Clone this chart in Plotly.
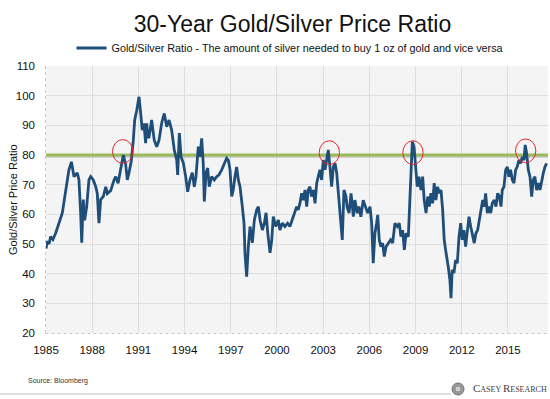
import plotly.graph_objects as go

# ---- data ----
years = [1985.0, 1985.1, 1985.2, 1985.3, 1985.45, 1985.63, 1985.84, 1986.06, 1986.28, 1986.49,
         1986.65, 1986.82, 1987.03, 1987.14, 1987.25, 1987.32, 1987.42, 1987.51, 1987.64, 1987.79,
         1987.90, 1988.07, 1988.23, 1988.33, 1988.44, 1988.55, 1988.72, 1988.88, 1988.98, 1989.20,
         1989.42, 1989.53, 1989.68, 1989.85, 1990.02, 1990.17, 1990.28, 1990.39, 1990.54, 1990.67,
         1990.76, 1990.89, 1991.04, 1991.15, 1991.25, 1991.36, 1991.47, 1991.54, 1991.62, 1991.69,
         1991.86, 1992.03, 1992.19, 1992.34, 1992.51, 1992.68, 1992.84, 1992.99, 1993.16, 1993.33,
         1993.49, 1993.55, 1993.66, 1993.77, 1993.92, 1994.07, 1994.20, 1994.35, 1994.50, 1994.63,
         1994.74, 1994.89, 1995.00, 1995.11, 1995.21, 1995.28, 1995.39, 1995.50, 1995.60, 1995.76,
         1995.93, 1996.08, 1996.23, 1996.41, 1996.58, 1996.73, 1996.84, 1996.95, 1997.06, 1997.16,
         1997.27, 1997.38, 1997.49, 1997.60, 1997.75, 1997.86, 1997.92, 1998.03, 1998.14, 1998.25,
         1998.40, 1998.53, 1998.68, 1998.79, 1998.90, 1999.05, 1999.18, 1999.29, 1999.40, 1999.55,
         1999.66, 1999.76, 1999.92, 2000.09, 2000.19, 2000.35, 2000.52, 2000.69, 2000.84, 2000.99,
         2001.12, 2001.28, 2001.38, 2001.49, 2001.60, 2001.71, 2001.82, 2001.93, 2002.03, 2002.14,
         2002.25, 2002.36, 2002.47, 2002.58, 2002.68, 2002.79, 2002.90, 2003.01, 2003.12, 2003.23,
         2003.33, 2003.44, 2003.55, 2003.66, 2003.77, 2003.88, 2003.98, 2004.09, 2004.24, 2004.35,
         2004.48, 2004.55, 2004.68, 2004.81, 2004.96, 2005.06, 2005.21, 2005.32, 2005.45, 2005.60,
         2005.76, 2005.89, 2006.04, 2006.15, 2006.25, 2006.36, 2006.47, 2006.54, 2006.64, 2006.75,
         2006.86, 2006.97, 2007.08, 2007.23, 2007.38, 2007.51, 2007.66, 2007.81, 2007.94, 2008.05,
         2008.16, 2008.27, 2008.38, 2008.53, 2008.64, 2008.70, 2008.79, 2008.90, 2009.01, 2009.11,
         2009.22, 2009.35, 2009.46, 2009.56, 2009.68, 2009.79, 2009.89, 2010.00, 2010.11, 2010.21,
         2010.32, 2010.43, 2010.54, 2010.65, 2010.76, 2010.86, 2010.95, 2011.02, 2011.12, 2011.23,
         2011.30, 2011.38, 2011.49, 2011.60, 2011.71, 2011.82, 2011.93, 2012.03, 2012.14, 2012.25,
         2012.36, 2012.47, 2012.58, 2012.68, 2012.81, 2012.92, 2013.03, 2013.14, 2013.25, 2013.36,
         2013.46, 2013.55, 2013.66, 2013.77, 2013.88, 2013.98, 2014.11, 2014.22, 2014.33, 2014.44,
         2014.55, 2014.63, 2014.74, 2014.85, 2014.96, 2015.06, 2015.17, 2015.28, 2015.39, 2015.50,
         2015.60, 2015.71, 2015.82, 2015.93, 2016.04, 2016.12, 2016.21, 2016.32, 2016.43, 2016.54,
         2016.64, 2016.75, 2016.86, 2016.98, 2017.08, 2017.19, 2017.29, 2017.40, 2017.51]

ratio = [48.5, 51, 50, 52.5, 51.5, 53.7, 57, 60.5, 68, 75,
         77.7, 72.7, 74, 71.6, 60.5, 50.4, 65, 58, 62.5, 71.6,
         72.7, 71.6, 69.3, 67, 57, 65, 66, 69.3, 67, 68,
         71.6, 72.7, 70.5, 75, 80, 77, 71.6, 74, 78, 85,
         91.8, 95, 99.6, 94, 88.4, 90.7, 84, 90.7, 86, 86,
         91.8, 85, 82.8, 85, 90.7, 94, 89.5, 91.8, 88.4, 81.7,
         78.3, 73.3, 87.4, 79.4, 77.3, 72.7, 67.6, 71.6, 74, 69.3,
         72.7, 82.8, 79.4, 85.6, 77.3, 64.3, 74, 75.6, 69.3, 72.7,
         71.6, 72.7, 73.3, 75, 77.3, 78.9, 78.3, 75, 66, 68.2,
         72.7, 76, 71.6, 69.3, 62.6, 57, 47, 39, 49.1, 55.9,
         50.4, 58.1, 61.5, 62.6, 58.1, 54.7, 57, 60.5, 53.7, 47,
         51.4, 59.2, 55.9, 58.1, 54.7, 57, 55.9, 57, 55.9, 58.1,
         60.5, 62.6, 61.5, 63.7, 67.1, 64.8, 68.2, 62.6, 68.2, 69.3,
         66, 68.2, 63.7, 70.5, 72.7, 75, 71.6, 78.3, 75, 78.3,
         81.7, 76, 69.3, 76, 77.2, 73.8, 68.2, 61.5, 51.4, 68.2,
         66, 62.6, 60.4, 67.1, 59.2, 64.8, 60.4, 62.6, 59.2, 64.8,
         62.6, 60.4, 62.6, 57, 43.5, 53.6, 57, 59.8, 51.4, 49.1,
         50.3, 45.8, 49.1, 50.3, 51.4, 50.3, 57, 55.9, 57, 52.5,
         54.7, 48, 53.6, 52.5, 64.8, 76, 84.5, 82.8, 76, 69.3,
         72.7, 68.2, 72.7, 64.8, 60.4, 66, 62.6, 67.1, 63.7, 70.5,
         64.8, 69.3, 67.1, 68.2, 61.5, 51.4, 48, 46, 42.4, 37.9,
         31.7, 41.3, 40.2, 44.6, 43.5, 52.5, 57, 51.4, 54.7, 49.1,
         54.7, 59.2, 55.9, 53.6, 50.3, 53.6, 54.7, 58.1, 61.5, 64.8,
         62.6, 67.1, 60.4, 62.6, 60.4, 63.7, 64.8, 62.6, 67.1, 66,
         62.6, 68.2, 69.3, 75, 76, 72.7, 75, 71.6, 70.5, 75,
         76, 78.3, 77.2, 79.4, 78.3, 83.4, 80.6, 75, 72.7, 66,
         71.6, 72.7, 68.2, 70.5, 68.2, 71.6, 73.8, 76, 77.2]

threshold = 80
x_range = [1985.0, 2017.6]
tick_years = [1985, 1988, 1991, 1994, 1997, 2000, 2003, 2006, 2009, 2012, 2015]
tick_labels = [str(y) for y in tick_years]
circle_years = [1989.98, 2003.4, 2008.83, 2016.15]
circle_values = [81.2, 80.8, 80.8, 81.4]

FONT = "Liberation Sans Narrow, Arial Narrow, Liberation Sans, Arial, sans-serif"

# plot-area geometry (pixels) for placing decorations outside the plot
L, R, T, B = 46, 548, 66, 333
W, H = 550, 399
def px(xp):
    return (xp - L) / (R - L)
def py(yp):
    return (B - yp) / (B - T)

fig = go.Figure()

fig.add_trace(go.Scatter(
    x=x_range, y=[threshold - 0.45, threshold - 0.45], mode="lines",
    line=dict(color="rgba(120,120,120,0.35)", width=3),
    showlegend=False, hoverinfo="skip"))
fig.add_trace(go.Scatter(
    x=x_range, y=[threshold, threshold], mode="lines",
    line=dict(color="#9BBB59", width=3),
    showlegend=False, hoverinfo="skip"))
fig.add_trace(go.Scatter(
    x=years, y=ratio, mode="lines",
    name="Gold/Silver Ratio - The amount of silver needed to buy 1 oz of gold and vice versa",
    line=dict(color="#1F4E79", width=2.8)))

shapes = []
for cx, cy in zip(circle_years, circle_values):
    shapes.append(dict(type="circle", xref="x", yref="y",
                       x0=cx - 0.66, x1=cx + 0.66, y0=cy - 4.0, y1=cy + 4.0,
                       line=dict(color="#E8262B", width=1)))
# dotted left and bottom frame
shapes.append(dict(type="line", xref="paper", yref="paper", x0=px(45.5), x1=px(45.5), y0=0, y1=1,
                   line=dict(color="#C8C8C8", width=1, dash="dot")))
shapes.append(dict(type="line", xref="paper", yref="paper", x0=px(45.5), x1=1, y0=py(333.5), y1=py(333.5),
                   line=dict(color="#C8C8C8", width=1, dash="dot")))
# footer separator
shapes.append(dict(type="line", xref="paper", yref="paper", x0=px(0), x1=px(451), y0=py(394), y1=py(394),
                   line=dict(color="#C0C0C0", width=1)))
# logo icon
shapes.append(dict(type="circle", xref="paper", yref="paper", x0=px(452), x1=px(464), y0=py(395), y1=py(383),
                   fillcolor="#9A9A9A", line=dict(color="#707070", width=1)))
shapes.append(dict(type="circle", xref="paper", yref="paper", x0=px(455), x1=px(461), y0=py(392), y1=py(386),
                   fillcolor="#D0D0D0", line=dict(color="#808080", width=0.8)))

annotations = [
    dict(text="Gold/Silver Price Ratio", xref="paper", yref="paper", x=px(13), y=py(200),
         xanchor="center", yanchor="middle", textangle=-90, showarrow=False,
         font=dict(family=FONT, size=11, color="#111111")),
    dict(text="Source: Bloomberg", xref="paper", yref="paper", x=px(26), y=py(381),
         xanchor="left", yanchor="middle", showarrow=False,
         font=dict(family=FONT, size=7, color="#333333")),
    dict(text="<span style='font-size:11px'>C</span>ASEY <span style='font-size:11px'>R</span>ESEARCH",
         xref="paper", yref="paper", x=px(549), y=py(388),
         xanchor="right", yanchor="middle", showarrow=False,
         font=dict(family="Liberation Serif, Times New Roman, serif", size=8, color="#404040")),
]

fig.update_layout(
    width=W, height=H,
    margin=dict(l=L, r=W - R, t=T, b=H - B, autoexpand=False),
    paper_bgcolor="white", plot_bgcolor="#F4F4F4",
    title=dict(text="30-Year Gold/Silver Price Ratio", x=292.5 / W, xanchor="center",
               y=1 - 24 / H, yanchor="middle", xref="container", yref="container",
               font=dict(family=FONT, size=23, color="#111111")),
    legend=dict(orientation="h", xref="container", yref="container",
                x=290 / W, xanchor="center", y=1 - 48 / H, yanchor="middle",
                font=dict(family=FONT, size=10.8, color="#111111"),
                bgcolor="rgba(0,0,0,0)", itemwidth=30),
    xaxis=dict(range=x_range, tickvals=tick_years, ticktext=tick_labels, automargin=False,
               showgrid=True, gridcolor="#DEDEDE", gridwidth=1, zeroline=False, showline=False,
               ticks="", ticklabelstandoff=8,
               tickfont=dict(family=FONT, size=11.5, color="#111111")),
    yaxis=dict(range=[20, 110], tick0=20, dtick=10, automargin=False,
               showgrid=True, gridcolor="#DEDEDE", gridwidth=1, zeroline=False, showline=False,
               ticks="", ticklabelstandoff=10,
               tickfont=dict(family=FONT, size=11.5, color="#111111")),
    shapes=shapes, annotations=annotations,
)

fig.write_html("out.html", config={"displayModeBar": False},
               post_script="document.body.style.margin='0';")
